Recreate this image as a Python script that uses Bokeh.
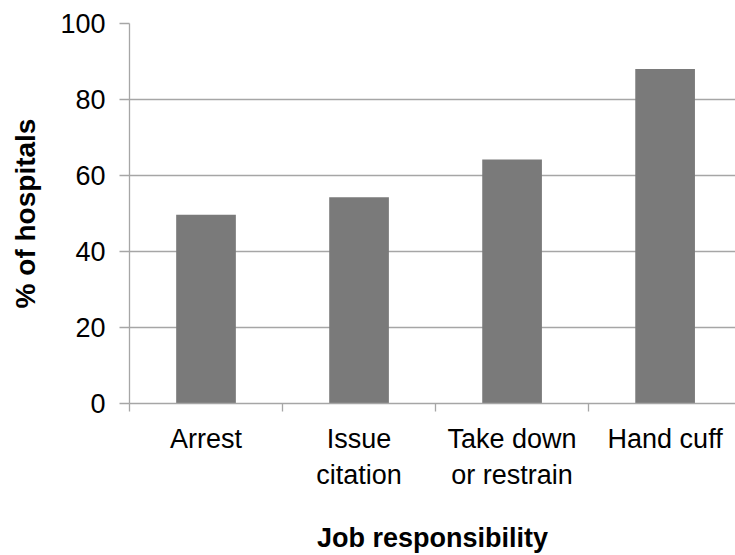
from bokeh.plotting import figure
from bokeh.models import Range1d, FixedTicker
from bokeh.embed import file_html
from bokeh.resources import INLINE

categories = ["Arrest", "Issue\ncitation", "Take down\nor restrain", "Hand cuff"]
values = [49.7, 54.3, 64.2, 88.0]
y_ticks = [0, 20, 40, 60, 80, 100]

centers = [i + 0.5 for i in range(len(categories))]
bounds = [float(i) for i in range(len(categories) + 1)]

FONT = "Liberation Sans"
GRID = "#a6a6a6"

p = figure(width=735, height=555, output_backend="svg", toolbar_location=None,
           x_range=Range1d(0, 3.96), y_range=Range1d(0, 100),
           min_border_left=129, min_border_right=0, min_border_top=23, min_border_bottom=151)
p.outline_line_color = None
p.background_fill_color = "white"
p.border_fill_color = "white"

p.vbar(x=centers, top=values, width=0.39, fill_color="#7a7a7a", line_color=None)

p.xgrid.visible = False
p.ygrid.ticker = FixedTicker(ticks=y_ticks)
p.ygrid.grid_line_color = GRID
p.ygrid.grid_line_width = 1.3

xa = p.xaxis[0]
xa.ticker = FixedTicker(ticks=centers, minor_ticks=bounds)
xa.major_label_overrides = {c: lab for c, lab in zip(centers, categories)}
xa.major_tick_out = 0
xa.major_tick_in = 0
xa.minor_tick_out = 8
xa.minor_tick_in = 0
xa.minor_tick_line_color = GRID
xa.minor_tick_line_width = 1.3
xa.axis_line_color = GRID
xa.axis_line_width = 1.3
xa.major_label_text_font = FONT
xa.major_label_text_font_size = "27px"
xa.major_label_text_color = "black"
xa.major_label_standoff = 12
xa.axis_label = "Job responsibility"
xa.axis_label_text_font = FONT
xa.axis_label_text_font_size = "27px"
xa.axis_label_text_font_style = "bold"
xa.axis_label_text_color = "black"
xa.axis_label_standoff = 30

ya = p.yaxis[0]
ya.ticker = FixedTicker(ticks=y_ticks)
ya.major_tick_out = 10
ya.major_tick_in = 0
ya.minor_tick_out = 0
ya.minor_tick_in = 0
ya.major_tick_line_color = GRID
ya.major_tick_line_width = 1.3
ya.axis_line_color = GRID
ya.axis_line_width = 1.3
ya.major_label_text_font = FONT
ya.major_label_text_font_size = "27px"
ya.major_label_text_color = "black"
ya.major_label_standoff = 14
ya.axis_label = "% of hospitals"
ya.axis_label_text_font = FONT
ya.axis_label_text_font_size = "28px"
ya.axis_label_text_font_style = "bold"
ya.axis_label_text_color = "black"
ya.axis_label_standoff = 16

open("out.html", "w").write(file_html(p, INLINE))
